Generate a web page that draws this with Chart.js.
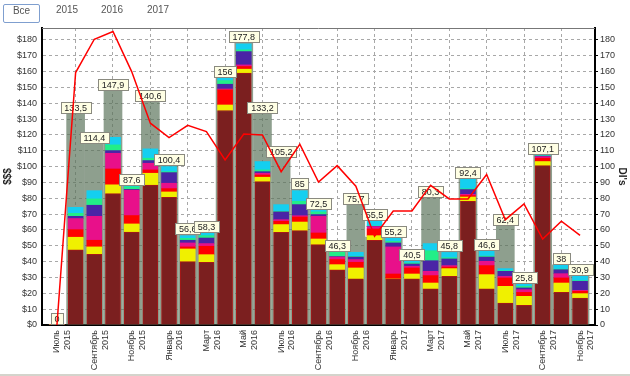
<!DOCTYPE html>
<html>
<head>
<meta charset="utf-8">
<script src="https://cdn.jsdelivr.net/npm/chart.js@4.4.0/dist/chart.umd.min.js"></script>
<style>
    html, body { margin: 0; padding: 0; background: #fff; }
    #wrap { position: relative; width: 630px; height: 376px; overflow: hidden; }
    #myChart { position: absolute; left: 0; top: 0; }
    .tab { position: absolute; top: 4px; height: 17px; line-height: 17px; text-align: center;
           font: 10px 'Liberation Sans', Arial, sans-serif; color: #555; }
    .tab.active { border: 1px solid #7f9fcf; border-radius: 2px; }
    #bottomLine { position: absolute; left: 0; right: 0; top: 374px; height: 2px; background: #d4d4cc; }
</style>
</head>
<body>
<div id="wrap">
    <canvas id="myChart" width="630" height="376"></canvas>
    <div class="tab active" style="left:3px;width:35px;">Все</div>
    <div class="tab" style="left:50px;width:34px;">2015</div>
    <div class="tab" style="left:95px;width:34px;">2016</div>
    <div class="tab" style="left:141px;width:34px;">2017</div>
    <div id="bottomLine"></div>
</div>
<script>
// months, Jul 2015 .. Nov 2017
const tickLabels = [
    'Июль 2015', 'Август 2015', 'Сентябрь 2015', 'Октябрь 2015', 'Ноябрь 2015', 'Декабрь 2015',
    'Январь 2016', 'Февраль 2016', 'Март 2016', 'Апрель 2016', 'Май 2016', 'Июнь 2016',
    'Июль 2016', 'Август 2016', 'Сентябрь 2016', 'Октябрь 2016', 'Ноябрь 2016', 'Декабрь 2016',
    'Январь 2017', 'Февраль 2017', 'Март 2017', 'Апрель 2017', 'Май 2017', 'Июнь 2017',
    'Июль 2017', 'Август 2017', 'Сентябрь 2017', 'Октябрь 2017', 'Ноябрь 2017'
];

// stacked parts, bottom to top
const part1 = [0, 47.4, 44.6, 82.9, 58.7, 88.3, 80.6, 40, 39.6, 135.4, 159, 90.5, 58.5, 59.6, 50.7, 34.9, 29.1, 53.5, 29.1, 29.1, 22.9, 30.7, 78.1, 22.9, 13.9, 12.4, 100.6, 20.6, 17];
const part2 = [0, 8, 4.7, 5.6, 5.1, 7.5, 3.4, 8, 4.8, 3.5, 2.5, 2.8, 4.9, 5.4, 3.6, 3.2, 6.9, 2.9, 0, 3.1, 3.6, 4.9, 2.7, 8.9, 10.5, 5.7, 2.6, 5.9, 2.8];
const part3 = [0, 4.8, 4.2, 10, 5.3, 2.1, 2.1, 1.3, 5.3, 9.5, 1.7, 1.4, 2.1, 3.2, 3.8, 3.2, 3.6, 4.2, 3.1, 3.8, 4.7, 1, 0.9, 5.7, 5.3, 2.5, 2.1, 3.2, 1.5];
const part4 = [0, 7, 15.1, 9.9, 16, 4.2, 3.4, 2.5, 1.7, 0.6, 1, 1.1, 1, 0.8, 10.5, 1.6, 1.7, 1.5, 17.1, 1.1, 2.7, 0.9, 0.8, 2.7, 1, 1.7, 1, 2.7, 0.6];
const part5 = [0, 1.4, 7, 1.7, 0.5, 1.7, 6.7, 1.7, 3.5, 3, 8.4, 1, 4.9, 7, 1.1, 0.3, 1.6, 0.2, 2.5, 1.4, 6.7, 4.2, 3, 2.7, 3.2, 1.1, 0.3, 2.5, 5.7];
const part6 = [0, 1.9, 4, 3.6, 1.6, 1.5, 0.6, 1.2, 1.5, 2.3, 1.1, 1.1, 0.4, 2.1, 1.7, 3.1, 0.4, 0.2, 1, 0.7, 6.3, 0.8, 0.5, 0.6, 0.4, 1, 0.2, 0.4, 0.4];
const part7 = [0, 3.8, 5.2, 4.8, 0.4, 5.9, 3.2, 1.7, 1.7, 1.5, 3.8, 5.3, 4.2, 6.7, 1.4, 0, 2.6, 3, 2.2, 1.3, 4.5, 3.3, 6.4, 3.1, 1.3, 1.4, 0.3, 2.7, 2.9];

// gray bars (values shown in the boxes)
const totals = [0, 133.5, 114.4, 147.9, 87.6, 140.6, 100.4, 56.6, 58.3, 156, 177.8, 133.2, 105.2, 85, 72.5, 46.3, 75.7, 55.5, 55.2, 40.5, 80.3, 45.8, 92.4, 46.6, 62.4, 25.8, 107.1, 38, 30.9];

// DI's line (right axis)
const diValues = [0, 159.4, 180.4, 185.3, 160, 127.4, 118.3, 126.1, 122.1, 104.2, 120.6, 120, 96.8, 114.1, 90.3, 100.6, 87.6, 56, 72, 72, 88.2, 79.6, 79.6, 95, 66.5, 76.4, 54.3, 65.5, 56.6];

const parts = [part1, part2, part3, part4, part5, part6, part7];
const partColors = ['#7b1f1f', '#f0f000', '#ff0000', '#e8108a', '#4a24a6', '#22ee88', '#14cff0'];
const fontFamily = "'Liberation Sans', Arial, sans-serif";

document.addEventListener('DOMContentLoaded', function() {
    const pts = arr => arr.map((v, i) => ({ x: i, y: v }));

    const datasets = parts.map((p, k) => ({
        type: 'bar',
        label: 'part' + (k + 1),
        data: pts(p),
        backgroundColor: partColors[k],
        borderColor: k === 0 ? '#a81818' : partColors[k],
        borderWidth: k === 0 ? 1 : 0,
        borderSkipped: 'bottom',
        stack: 'parts',
        grouped: false,
        barThickness: 15,
        order: 1,
        yAxisID: 'y'
    }));

    datasets.push({
        type: 'bar',
        label: 'total',
        data: pts(totals),
        backgroundColor: 'rgba(88,114,88,0.68)',
        borderWidth: 0,
        stack: 'total',
        grouped: false,
        barThickness: 18,
        order: 2,
        yAxisID: 'y'
    });

    datasets.push({
        type: 'line',
        label: "DI's",
        data: pts(diValues),
        borderColor: '#ff0000',
        borderWidth: 1.5,
        pointRadius: 0,
        tension: 0,
        order: 0,
        yAxisID: 'y1'
    });

    // value boxes, drawn above the bars but under the line
    const calloutPlugin = {
        id: 'callouts',
        beforeDatasetDraw(chart, args) {
            if (args.index !== chart.data.datasets.length - 1) return;
            const ctx = chart.ctx;
            const xScale = chart.scales.x, yScale = chart.scales.y;
            ctx.save();
            ctx.font = '9px ' + fontFamily;
            ctx.textAlign = 'center';
            ctx.textBaseline = 'middle';
            ctx.lineWidth = 1;
            totals.forEach((t, i) => {
                const stackTop = parts.reduce((s, p) => s + p[i], 0);
                const top = yScale.getPixelForValue(Math.max(t, stackTop));
                const text = String(t).replace('.', ',');
                const w = Math.round(ctx.measureText(text).width + 7);
                const h = 11;
                const x = xScale.getPixelForValue(i);
                const bx = Math.round(x - w / 2) + 0.5;
                const by = Math.round(top - 1 - h) + 0.5;
                ctx.fillStyle = '#ffffe4';
                ctx.fillRect(bx, by, w, h);
                ctx.strokeStyle = '#8a8a80';
                ctx.strokeRect(bx, by, w, h);
                ctx.fillStyle = '#222';
                ctx.fillText(text, x, by + h / 2 + 0.5);
            });
            ctx.restore();
        }
    };

    // top frame line
    const framePlugin = {
        id: 'frame',
        afterDraw(chart) {
            const a = chart.chartArea, ctx = chart.ctx;
            ctx.save();
            ctx.strokeStyle = '#777';
            ctx.lineWidth = 1;
            ctx.beginPath();
            ctx.moveTo(a.left, Math.round(a.top) + 0.5);
            ctx.lineTo(a.right, Math.round(a.top) + 0.5);
            ctx.stroke();
            ctx.restore();
        }
    };

    const ctx = document.getElementById('myChart').getContext('2d');
    new Chart(ctx, {
        type: 'bar',
        data: { datasets: datasets },
        plugins: [calloutPlugin, framePlugin],
        options: {
            responsive: false,
            animation: false,
            layout: { padding: { top: 28, left: 0, right: 0, bottom: 0 } },
            plugins: {
                legend: { display: false },
                tooltip: { enabled: false }
            },
            scales: {
                x: {
                    type: 'linear',
                    min: -0.8,
                    max: 28.8,
                    offset: false,
                    grid: { color: '#a8a8a8', drawTicks: false },
                    border: { display: true, color: '#000', width: 2, dash: [3, 3] },
                    ticks: {
                        stepSize: 2,
                        includeBounds: false,
                        autoSkip: false,
                        maxRotation: 90,
                        minRotation: 90,
                        padding: 5,
                        color: '#333',
                        font: { family: fontFamily, size: 9 },
                        callback: v => tickLabels[v] ? tickLabels[v].split(' ') : ''
                    },
                    afterFit: s => { s.height = 51; }
                },
                y: {
                    position: 'left',
                    stacked: true,
                    min: 0,
                    max: 187.5,
                    grid: { color: '#a8a8a8', drawTicks: false },
                    border: { display: true, color: '#000', width: 2, dash: [3, 3] },
                    ticks: {
                        stepSize: 10,
                        includeBounds: false,
                        padding: 5,
                        color: '#333',
                        font: { family: fontFamily, size: 9 },
                        callback: v => '$' + v
                    },
                    title: {
                        display: true,
                        text: '$$$',
                        color: '#222',
                        padding: 2,
                        font: { family: fontFamily, size: 10, weight: 'bold' }
                    },
                    afterFit: s => { s.width = 42; }
                },
                y1: {
                    position: 'right',
                    min: 0,
                    max: 187.5,
                    grid: { drawOnChartArea: false, drawTicks: true, tickLength: 3, color: '#000' },
                    border: { display: true, color: '#000', width: 2 },
                    ticks: {
                        stepSize: 10,
                        includeBounds: false,
                        padding: 2,
                        color: '#333',
                        font: { family: fontFamily, size: 9 }
                    },
                    title: {
                        display: true,
                        text: "DI's",
                        color: '#222',
                        padding: 2,
                        font: { family: fontFamily, size: 10, weight: 'bold' }
                    },
                    afterFit: s => { s.width = 35; }
                }
            }
        }
    });
});
</script>
</body>
</html>
